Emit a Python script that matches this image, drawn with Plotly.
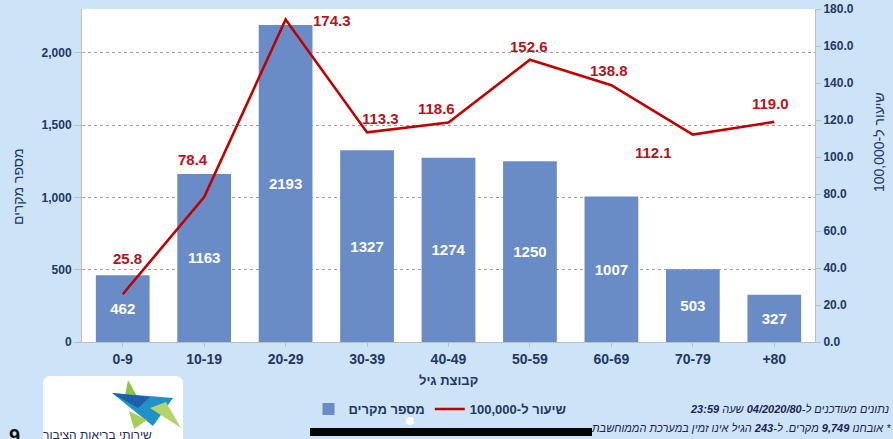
import plotly.graph_objects as go

# Data: confirmed cases and rate per 100,000 by age group
age_groups = ["0-9", "10-19", "20-29", "30-39", "40-49", "50-59", "60-69", "70-79", "+80"]
cases = [462, 1163, 2193, 1327, 1274, 1250, 1007, 503, 327]
rate_per_100k = [25.8, 78.4, 174.3, 113.3, 118.6, 152.6, 138.8, 112.1, 119.0]

# Pixel offsets of the rate labels relative to their points (dx right, dy down)
rate_label_offsets = [(5, -36), (-11, -37), (46, 1), (13, -14), (-12, -14),
                      (-1, -13), (-2, -15), (-39, 18), (-4, -18)]

W, H = 893, 439
L, R, T, B = 82, 815, 9, 342   # plot area in pixels

NAVY = "#203864"
RED = "#c00000"
BAR = "#6a8cc6"
BG = "#cde3f8"
FONT = "Liberation Sans"

RLE, PDF = "\u202b", "\u202c"


def px(x):
    return (x - L) / (R - L)


def py(y):
    return (B - y) / (B - T)


def page_text(x, y, text, size, color, weight="normal", xanchor="center", angle=0):
    return dict(x=px(x), y=py(y), xref="paper", yref="paper", text=text,
                xanchor=xanchor, yanchor="middle", textangle=angle,
                showarrow=False,
                font=dict(color=color, size=size, family=FONT, weight=weight))


fig = go.Figure()

fig.add_trace(go.Bar(
    x=age_groups, y=cases, name="מספר מקרים",
    marker=dict(color=BAR, line=dict(width=0)),
    text=[str(v) for v in cases], textposition="inside",
    insidetextanchor="middle", textangle=0,
    textfont=dict(color="white", size=15, family=FONT, weight="bold"),
    hoverinfo="skip",
))

fig.add_trace(go.Scatter(
    x=age_groups, y=rate_per_100k, name=RLE + "שיעור ל-100,000" + PDF,
    yaxis="y2", mode="lines",
    line=dict(color=RED, width=2.6),
    hoverinfo="skip",
))

annotations = []
for i, (v, (dx, dy)) in enumerate(zip(rate_per_100k, rate_label_offsets)):
    annotations.append(dict(
        x=i, y=v, xref="x", yref="y2", text=f"{v:.1f}", showarrow=False,
        xanchor="center", yanchor="middle",
        xshift=dx, yshift=-dy,
        font=dict(color="#b3151c", size=15, family=FONT, weight="bold"),
    ))

# Axis titles
annotations += [
    page_text(18, 187, "מספר מקרים", 14, NAVY, angle=-90),
    page_text(879, 142, RLE + "שיעור ל-100,000" + PDF, 14, NAVY, angle=-90),
    page_text(448, 381, "קבוצת גיל", 13, NAVY, "bold"),
]

# Footnotes, page number and logo caption
annotations += [
    page_text(891, 409,
              RLE + "<i>נתונים מעודכנים ל-<b>04/2020/80</b> שעה <b>23:59</b></i>" + PDF,
              11, "#1c2452", xanchor="right"),
    page_text(893, 428,
              RLE + "<i>* אובחנו <b>9,749</b> מקרים. ל-<b>243</b> הגיל אינו זמין במערכת הממוחשבת</i>" + PDF,
              11, "#1c2452", xanchor="right"),
    page_text(14, 436, "9", 20, "#111111", "bold"),
    page_text(97, 435, "שירותי בריאות הציבור", 12, "#1f2d5c"),
]

shapes = [
    # logo card
    dict(type="path", xref="paper", yref="paper",
         path=(f"M {px(51)},{py(376)} L {px(175)},{py(376)} "
               f"Q {px(183)},{py(376)} {px(183)},{py(384)} L {px(183)},{py(450)} "
               f"L {px(43)},{py(450)} L {px(43)},{py(384)} "
               f"Q {px(43)},{py(376)} {px(51)},{py(376)} Z"),
         fillcolor="white", line=dict(width=0), layer="above"),
    # logo star pieces
    dict(type="path", xref="paper", yref="paper",
         path=f"M {px(128)},{py(380)} L {px(138)},{py(398)} L {px(124)},{py(401)} Z",
         fillcolor="#8cc63f", line=dict(width=0), layer="above"),
    dict(type="path", xref="paper", yref="paper",
         path=f"M {px(112)},{py(393)} L {px(173)},{py(398)} L {px(153)},{py(426)} Z",
         fillcolor="#1f93c9", line=dict(width=0), layer="above"),
    dict(type="path", xref="paper", yref="paper",
         path=f"M {px(112)},{py(393)} L {px(150)},{py(397)} L {px(138)},{py(408)} Z",
         fillcolor="#1b5fa8", line=dict(width=0), layer="above"),
    dict(type="path", xref="paper", yref="paper",
         path=f"M {px(150)},{py(408)} L {px(181)},{py(428)} L {px(166)},{py(402)} Z",
         fillcolor="#b5d56a", line=dict(width=0), layer="above"),
    dict(type="path", xref="paper", yref="paper",
         path=f"M {px(129)},{py(411)} L {px(147)},{py(420)} L {px(134)},{py(429)} Z",
         fillcolor="#a6cf5a", line=dict(width=0), layer="above"),
    # black scrub bar and page indicator
    dict(type="rect", xref="paper", yref="paper",
         x0=px(310), x1=px(592), y0=py(436), y1=py(428),
         fillcolor="#050505", line=dict(width=0), layer="above"),
    dict(type="circle", xref="paper", yref="paper",
         x0=px(406), x1=px(414), y0=py(425), y1=py(417),
         fillcolor="white", line=dict(width=0), layer="above"),
]

fig.update_layout(
    width=W, height=H,
    margin=dict(l=L, r=W - R, t=T, b=H - B, autoexpand=False),
    paper_bgcolor=BG, plot_bgcolor="white",
    bargap=0.34,
    showlegend=True,
    legend=dict(orientation="h", x=px(440), y=py(409), xanchor="center",
                yanchor="middle", bgcolor="rgba(0,0,0,0)",
                font=dict(color=NAVY, size=13, family=FONT, weight="bold"),
                itemwidth=30, tracegroupgap=0),
    xaxis=dict(
        type="category", range=[-0.5, len(age_groups) - 0.5],
        showline=True, linecolor="#bfbfbf", linewidth=1,
        ticks="outside", ticklen=4, tickcolor="#bfbfbf",
        tickfont=dict(color=NAVY, size=14, family=FONT, weight="bold"),
        showgrid=False, automargin=False,
    ),
    yaxis=dict(
        range=[0, 2304], tickvals=[0, 500, 1000, 1500, 2000], tickformat=",",
        showline=True, linecolor="#bfbfbf", linewidth=1,
        ticks="outside", ticklen=7, tickcolor="#bfbfbf",
        showgrid=True, gridcolor="#a0a0a0", griddash="dot", gridwidth=1,
        zeroline=False, automargin=False,
        tickfont=dict(color=NAVY, size=12, family=FONT, weight="bold"),
    ),
    yaxis2=dict(
        range=[0, 180], dtick=20, tickformat=".1f", overlaying="y", side="right",
        showline=True, linecolor="#bfbfbf", linewidth=1,
        ticks="outside", ticklen=5, tickcolor="#bfbfbf",
        showgrid=False, zeroline=False, automargin=False,
        tickfont=dict(color=NAVY, size=12, family=FONT, weight="bold"),
    ),
    annotations=annotations,
    shapes=shapes,
)

fig.write_html("out.html")
